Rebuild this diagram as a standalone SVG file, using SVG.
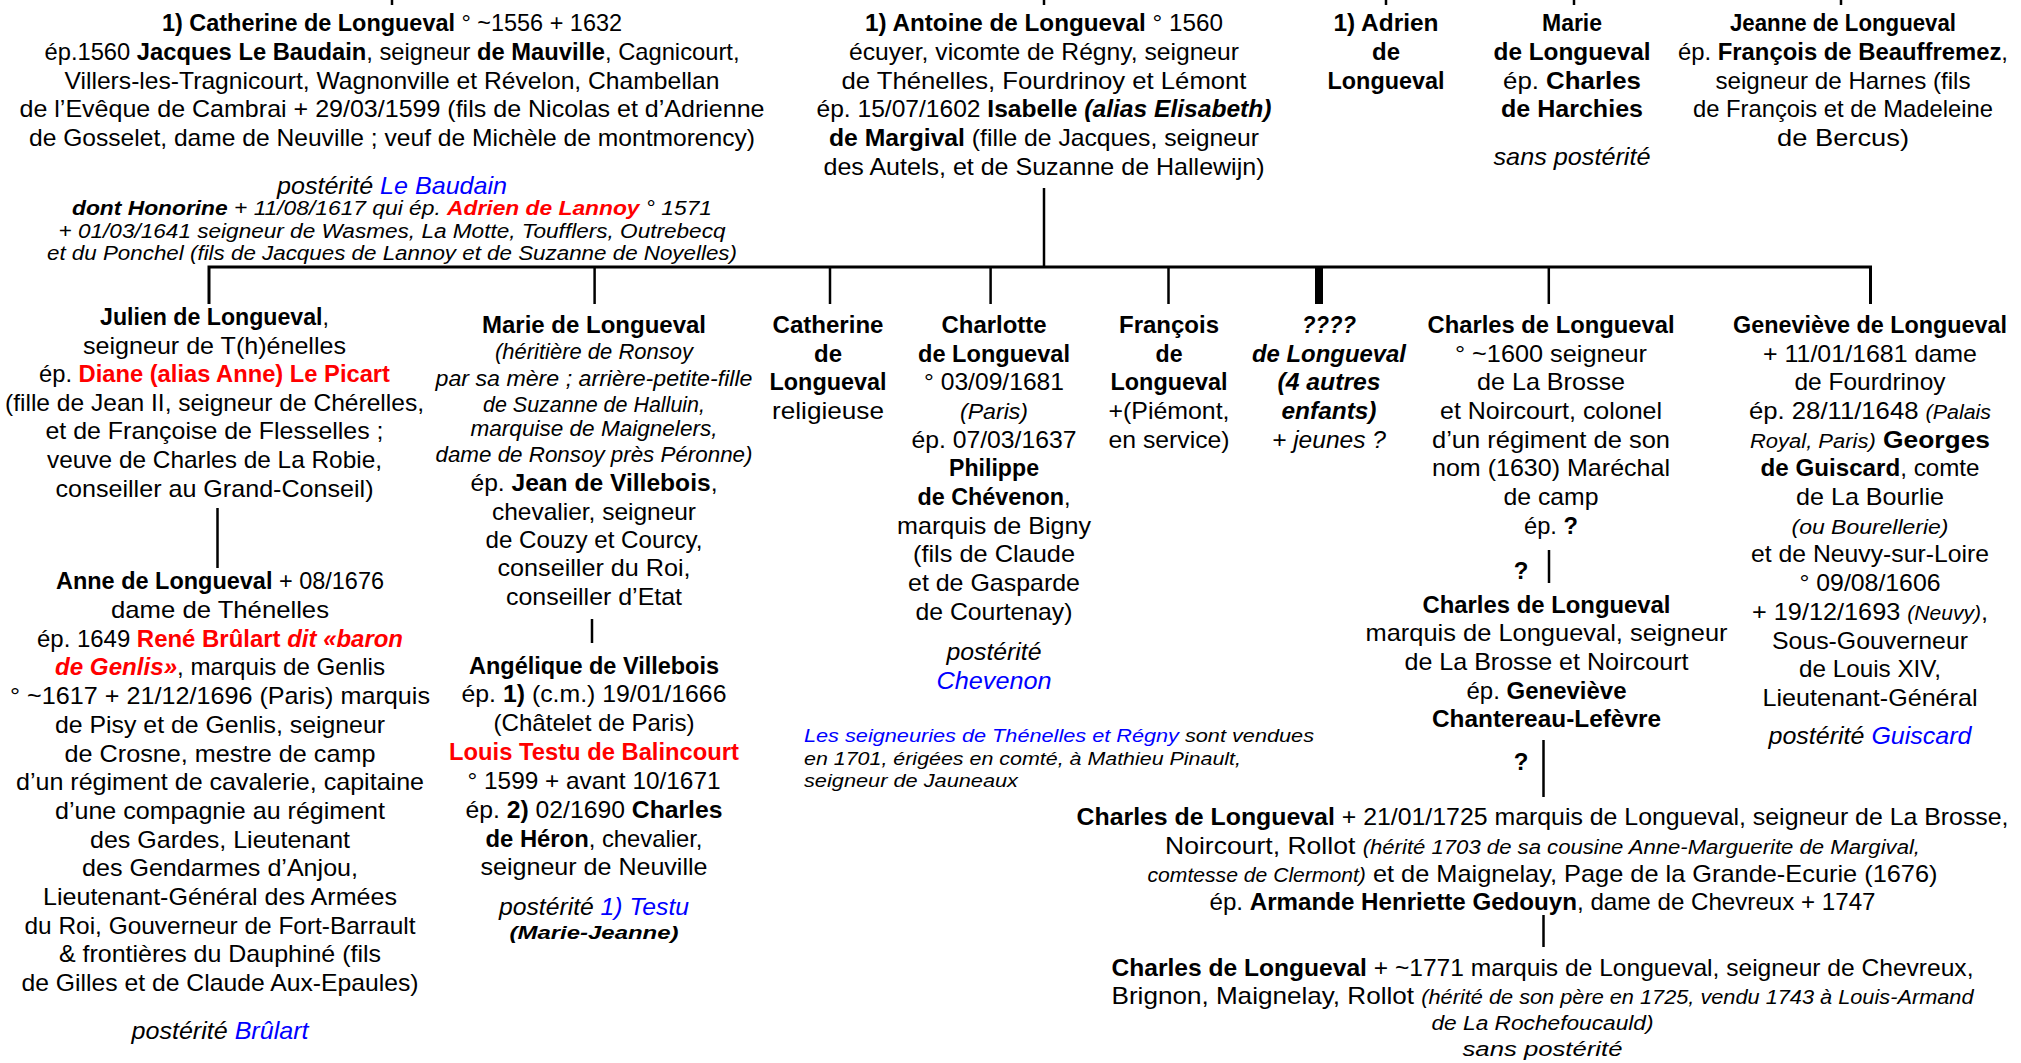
<svg xmlns="http://www.w3.org/2000/svg" width="2021" height="1063" viewBox="0 0 2021 1063">
<style>
text{font-family:"Liberation Sans",Arial,sans-serif;font-size:24px;fill:#000;text-anchor:middle}
.b{font-weight:bold}
.i{font-style:italic}
.r{fill:#ff0000}
.u{fill:#0000ff}
.s20{font-size:20px}
.s22{font-size:22px}
.s19{font-size:19px}
.l{text-anchor:start}
.c line,.c path{stroke:#000;stroke-width:2.5;fill:none}
</style>
<rect width="2021" height="1063" fill="#fff"/>
<g class="c" id="connectors">
<line x1="392" y1="0" x2="392" y2="5"/>
<line x1="1044" y1="0" x2="1044" y2="5"/>
<line x1="1386" y1="0" x2="1386" y2="5"/>
<line x1="1574" y1="0" x2="1574" y2="5"/>
<line x1="1841" y1="0" x2="1841" y2="5"/>
<line x1="1044" y1="188" x2="1044" y2="267"/>
<path d="M209,304 V267 H1870.5 V304" style="stroke-width:3"/>
<line x1="594.6" y1="267" x2="594.6" y2="304"/>
<line x1="830" y1="267" x2="830" y2="304"/>
<line x1="990.6" y1="267" x2="990.6" y2="304"/>
<line x1="1168.5" y1="267" x2="1168.5" y2="304"/>
<line x1="1319" y1="267" x2="1319" y2="304" style="stroke-width:8"/>
<line x1="1548.8" y1="267" x2="1548.8" y2="304"/>
<line x1="217.5" y1="508" x2="217.5" y2="568"/>
<line x1="592" y1="619" x2="592" y2="643"/>
<line x1="1549" y1="550" x2="1549" y2="583"/>
<line x1="1543.5" y1="740" x2="1543.5" y2="797"/>
<line x1="1543.5" y1="915" x2="1543.5" y2="947"/>
</g>
<g id="catherine-top">
<text x="392" y="31" textLength="460" lengthAdjust="spacingAndGlyphs"><tspan class="b">1) Catherine de Longueval</tspan> ° ~1556 + 1632</text>
<text x="392" y="59.75" textLength="695" lengthAdjust="spacingAndGlyphs">ép.1560 <tspan class="b">Jacques Le Baudain</tspan>, seigneur <tspan class="b">de Mauville</tspan>, Cagnicourt,</text>
<text x="392" y="88.5" textLength="655" lengthAdjust="spacingAndGlyphs">Villers-les-Tragnicourt, Wagnonville et Révelon, Chambellan</text>
<text x="392" y="117.25" textLength="745" lengthAdjust="spacingAndGlyphs">de l’Evêque de Cambrai + 29/03/1599 (fils de Nicolas et d’Adrienne</text>
<text x="392" y="146" textLength="726" lengthAdjust="spacingAndGlyphs">de Gosselet, dame de Neuville ; veuf de Michèle de montmorency)</text>
<text x="392" y="193.6" textLength="230" lengthAdjust="spacingAndGlyphs" class="i">postérité <tspan class="u">Le Baudain</tspan></text>
<text x="392" y="215" textLength="640" lengthAdjust="spacingAndGlyphs" class="i s20"><tspan class="b">dont Honorine</tspan> + 11/08/1617 qui ép. <tspan class="b r">Adrien de Lannoy</tspan> ° 1571</text>
<text x="392" y="238" textLength="667" lengthAdjust="spacingAndGlyphs" class="i s20">+ 01/03/1641 seigneur de Wasmes, La Motte, Toufflers, Outrebecq</text>
<text x="392" y="260" textLength="690" lengthAdjust="spacingAndGlyphs" class="i s20">et du Ponchel (fils de Jacques de Lannoy et de Suzanne de Noyelles)</text>
</g>
<g id="antoine">
<text x="1044" y="31" textLength="358" lengthAdjust="spacingAndGlyphs"><tspan class="b">1) Antoine de Longueval</tspan> ° 1560</text>
<text x="1044" y="59.75" textLength="390" lengthAdjust="spacingAndGlyphs">écuyer, vicomte de Régny, seigneur</text>
<text x="1044" y="88.5" textLength="405" lengthAdjust="spacingAndGlyphs">de Thénelles, Fourdrinoy et Lémont</text>
<text x="1044" y="117.25" textLength="455" lengthAdjust="spacingAndGlyphs">ép. 15/07/1602 <tspan class="b">Isabelle </tspan><tspan class="b i">(alias Elisabeth)</tspan></text>
<text x="1044" y="146" textLength="430" lengthAdjust="spacingAndGlyphs"><tspan class="b">de Margival</tspan> (fille de Jacques, seigneur</text>
<text x="1044" y="174.75" textLength="441" lengthAdjust="spacingAndGlyphs">des Autels, et de Suzanne de Hallewijn)</text>
</g>
<g id="adrien">
<text x="1386" y="31" class="b" textLength="105" lengthAdjust="spacingAndGlyphs">1) Adrien</text>
<text x="1386" y="59.75" class="b" textLength="28" lengthAdjust="spacingAndGlyphs">de</text>
<text x="1386" y="88.5" class="b" textLength="117" lengthAdjust="spacingAndGlyphs">Longueval</text>
</g>
<g id="marie-top">
<text x="1572" y="31" class="b" textLength="60" lengthAdjust="spacingAndGlyphs">Marie</text>
<text x="1572" y="59.75" class="b" textLength="157" lengthAdjust="spacingAndGlyphs">de Longueval</text>
<text x="1572" y="88.5" textLength="138" lengthAdjust="spacingAndGlyphs">ép. <tspan class="b">Charles</tspan></text>
<text x="1572" y="117.25" class="b" textLength="142" lengthAdjust="spacingAndGlyphs">de Harchies</text>
<text x="1572" y="165" class="i" textLength="157" lengthAdjust="spacingAndGlyphs">sans postérité</text>
</g>
<g id="jeanne">
<text x="1843" y="31" class="b" textLength="226" lengthAdjust="spacingAndGlyphs">Jeanne de Longueval</text>
<text x="1843" y="59.75" textLength="330" lengthAdjust="spacingAndGlyphs">ép. <tspan class="b">François de Beauffremez</tspan>,</text>
<text x="1843" y="88.5" textLength="255" lengthAdjust="spacingAndGlyphs">seigneur de Harnes (fils</text>
<text x="1843" y="117.25" textLength="300" lengthAdjust="spacingAndGlyphs">de François et de Madeleine</text>
<text x="1843" y="146" textLength="132" lengthAdjust="spacingAndGlyphs">de Bercus)</text>
</g>
<g id="julien">
<text x="214.5" y="325" textLength="229" lengthAdjust="spacingAndGlyphs"><tspan class="b">Julien de Longueval</tspan>,</text>
<text x="214.5" y="353.6" textLength="263" lengthAdjust="spacingAndGlyphs">seigneur de T(h)énelles</text>
<text x="214.5" y="382.2" textLength="351" lengthAdjust="spacingAndGlyphs">ép. <tspan class="b r">Diane (alias Anne) Le Picart</tspan></text>
<text x="214.5" y="410.8" textLength="419" lengthAdjust="spacingAndGlyphs">(fille de Jean II, seigneur de Chérelles,</text>
<text x="214.5" y="439.4" textLength="338" lengthAdjust="spacingAndGlyphs">et de Françoise de Flesselles ;</text>
<text x="214.5" y="468" textLength="335" lengthAdjust="spacingAndGlyphs">veuve de Charles de La Robie,</text>
<text x="214.5" y="496.6" textLength="318" lengthAdjust="spacingAndGlyphs">conseiller au Grand-Conseil)</text>
</g>
<g id="anne">
<text x="220" y="589.3" textLength="328" lengthAdjust="spacingAndGlyphs"><tspan class="b">Anne de Longueval</tspan> + 08/1676</text>
<text x="220" y="618" textLength="218" lengthAdjust="spacingAndGlyphs">dame de Thénelles</text>
<text x="220" y="646.7" textLength="366" lengthAdjust="spacingAndGlyphs">ép. 1649 <tspan class="b r">René Brûlart </tspan><tspan class="b i r">dit «baron</tspan></text>
<text x="220" y="675.4" textLength="330" lengthAdjust="spacingAndGlyphs"><tspan class="b i r">de Genlis»</tspan>, marquis de Genlis</text>
<text x="220" y="704.1" textLength="420" lengthAdjust="spacingAndGlyphs">° ~1617 + 21/12/1696 (Paris) marquis</text>
<text x="220" y="732.8" textLength="330" lengthAdjust="spacingAndGlyphs">de Pisy et de Genlis, seigneur</text>
<text x="220" y="761.5" textLength="311" lengthAdjust="spacingAndGlyphs">de Crosne, mestre de camp</text>
<text x="220" y="790.2" textLength="408" lengthAdjust="spacingAndGlyphs">d’un régiment de cavalerie, capitaine</text>
<text x="220" y="818.9" textLength="330" lengthAdjust="spacingAndGlyphs">d’une compagnie au régiment</text>
<text x="220" y="847.6" textLength="260" lengthAdjust="spacingAndGlyphs">des Gardes, Lieutenant</text>
<text x="220" y="876.3" textLength="276" lengthAdjust="spacingAndGlyphs">des Gendarmes d’Anjou,</text>
<text x="220" y="905" textLength="354" lengthAdjust="spacingAndGlyphs">Lieutenant-Général des Armées</text>
<text x="220" y="933.7" textLength="391" lengthAdjust="spacingAndGlyphs">du Roi, Gouverneur de Fort-Barrault</text>
<text x="220" y="962.4" textLength="322" lengthAdjust="spacingAndGlyphs">&amp; frontières du Dauphiné (fils</text>
<text x="220" y="991.1" textLength="397" lengthAdjust="spacingAndGlyphs">de Gilles et de Claude Aux-Epaules)</text>
<text x="220" y="1039" class="i" textLength="177" lengthAdjust="spacingAndGlyphs">postérité <tspan class="u">Brûlart</tspan></text>
</g>
<g id="marie-child">
<text x="594" y="333" class="b" textLength="224" lengthAdjust="spacingAndGlyphs">Marie de Longueval</text>
<text x="594" y="359" class="i s22" textLength="198" lengthAdjust="spacingAndGlyphs">(héritière de Ronsoy</text>
<text x="594" y="386" class="i s22" textLength="317" lengthAdjust="spacingAndGlyphs">par sa mère ; arrière-petite-fille</text>
<text x="594" y="411.7" class="i s22" textLength="222" lengthAdjust="spacingAndGlyphs">de Suzanne de Halluin,</text>
<text x="594" y="436.2" class="i s22" textLength="247" lengthAdjust="spacingAndGlyphs">marquise de Maignelers,</text>
<text x="594" y="462" class="i s22" textLength="317" lengthAdjust="spacingAndGlyphs">dame de Ronsoy près Péronne)</text>
<text x="594" y="491.3" textLength="247" lengthAdjust="spacingAndGlyphs">ép.  <tspan class="b">Jean de Villebois</tspan>,</text>
<text x="594" y="519.7" textLength="204" lengthAdjust="spacingAndGlyphs">chevalier, seigneur</text>
<text x="594" y="548" textLength="217" lengthAdjust="spacingAndGlyphs">de Couzy et Courcy,</text>
<text x="594" y="576.4" textLength="193" lengthAdjust="spacingAndGlyphs">conseiller du Roi,</text>
<text x="594" y="604.8" textLength="176" lengthAdjust="spacingAndGlyphs">conseiller d’Etat</text>
</g>
<g id="angelique">
<text x="594" y="674" class="b" textLength="250" lengthAdjust="spacingAndGlyphs">Angélique de Villebois</text>
<text x="594" y="702" textLength="265" lengthAdjust="spacingAndGlyphs">ép. <tspan class="b">1)</tspan> (c.m.) 19/01/1666</text>
<text x="594" y="730.5" textLength="201" lengthAdjust="spacingAndGlyphs">(Châtelet de Paris)</text>
<text x="594" y="760" class="b r" textLength="290" lengthAdjust="spacingAndGlyphs">Louis Testu de Balincourt</text>
<text x="594" y="788.5" textLength="253" lengthAdjust="spacingAndGlyphs">° 1599 + avant 10/1671</text>
<text x="594" y="818" textLength="257" lengthAdjust="spacingAndGlyphs">ép. <tspan class="b">2)</tspan> 02/1690 <tspan class="b">Charles</tspan></text>
<text x="594" y="846.5" textLength="217" lengthAdjust="spacingAndGlyphs"><tspan class="b">de Héron</tspan>, chevalier,</text>
<text x="594" y="875" textLength="227" lengthAdjust="spacingAndGlyphs">seigneur de Neuville</text>
<text x="594" y="914.5" class="i" textLength="190" lengthAdjust="spacingAndGlyphs">postérité <tspan class="u">1) Testu</tspan></text>
<text x="594" y="939" class="b i s19" textLength="169" lengthAdjust="spacingAndGlyphs">(Marie-Jeanne)</text>
</g>
<g id="catherine-child">
<text x="828" y="332.8" class="b" textLength="111" lengthAdjust="spacingAndGlyphs">Catherine</text>
<text x="828" y="361.5" class="b" textLength="28" lengthAdjust="spacingAndGlyphs">de</text>
<text x="828" y="390.2" class="b" textLength="117" lengthAdjust="spacingAndGlyphs">Longueval</text>
<text x="828" y="418.9" textLength="112" lengthAdjust="spacingAndGlyphs">religieuse</text>
</g>
<g id="charlotte">
<text x="994" y="332.8" class="b" textLength="105" lengthAdjust="spacingAndGlyphs">Charlotte</text>
<text x="994" y="361.5" class="b" textLength="152" lengthAdjust="spacingAndGlyphs">de Longueval</text>
<text x="994" y="390.2" textLength="140" lengthAdjust="spacingAndGlyphs">° 03/09/1681</text>
<text x="994" y="418.9" class="i s22" textLength="68" lengthAdjust="spacingAndGlyphs">(Paris)</text>
<text x="994" y="447.6" textLength="165" lengthAdjust="spacingAndGlyphs">ép. 07/03/1637</text>
<text x="994" y="476.3" class="b" textLength="90" lengthAdjust="spacingAndGlyphs">Philippe</text>
<text x="994" y="505" textLength="153" lengthAdjust="spacingAndGlyphs"><tspan class="b">de Chévenon</tspan>,</text>
<text x="994" y="533.7" textLength="194" lengthAdjust="spacingAndGlyphs">marquis de Bigny</text>
<text x="994" y="562.4" textLength="162" lengthAdjust="spacingAndGlyphs">(fils de Claude</text>
<text x="994" y="591.1" textLength="172" lengthAdjust="spacingAndGlyphs">et de Gasparde</text>
<text x="994" y="619.8" textLength="157" lengthAdjust="spacingAndGlyphs">de Courtenay)</text>
<text x="994" y="659.6" class="i" textLength="95" lengthAdjust="spacingAndGlyphs">postérité</text>
<text x="994" y="688.5" class="i u" textLength="115" lengthAdjust="spacingAndGlyphs">Chevenon</text>
</g>
<g id="francois">
<text x="1169" y="332.8" class="b" textLength="100" lengthAdjust="spacingAndGlyphs">François</text>
<text x="1169" y="361.5" class="b" textLength="27" lengthAdjust="spacingAndGlyphs">de</text>
<text x="1169" y="390.2" class="b" textLength="117" lengthAdjust="spacingAndGlyphs">Longueval</text>
<text x="1169" y="418.9" textLength="121" lengthAdjust="spacingAndGlyphs">+(Piémont,</text>
<text x="1169" y="447.6" textLength="121" lengthAdjust="spacingAndGlyphs">en service)</text>
</g>
<g id="autres">
<text x="1329" y="332.8" class="b i" textLength="54" lengthAdjust="spacingAndGlyphs">????</text>
<text x="1329" y="361.5" class="b i" textLength="154" lengthAdjust="spacingAndGlyphs">de Longueval</text>
<text x="1329" y="390.2" class="b i" textLength="103" lengthAdjust="spacingAndGlyphs">(4 autres</text>
<text x="1329" y="418.9" class="b i" textLength="95" lengthAdjust="spacingAndGlyphs">enfants)</text>
<text x="1329" y="447.6" class="i" textLength="114" lengthAdjust="spacingAndGlyphs">+ jeunes ?</text>
</g>
<g id="note">
<text x="804" y="742" class="i s19 l" textLength="510" lengthAdjust="spacingAndGlyphs"><tspan class="u">Les seigneuries de Thénelles et Régny</tspan> sont vendues</text>
<text x="804" y="765" class="i s19 l" textLength="437" lengthAdjust="spacingAndGlyphs">en 1701, érigées en comté, à Mathieu Pinault,</text>
<text x="804" y="787" class="i s19 l" textLength="214" lengthAdjust="spacingAndGlyphs">seigneur de Jauneaux</text>
</g>
<g id="charles-1600">
<text x="1551" y="332.8" class="b" textLength="247" lengthAdjust="spacingAndGlyphs">Charles de Longueval</text>
<text x="1551" y="361.5" textLength="192" lengthAdjust="spacingAndGlyphs">° ~1600 seigneur</text>
<text x="1551" y="390.2" textLength="148" lengthAdjust="spacingAndGlyphs">de La Brosse</text>
<text x="1551" y="418.9" textLength="222" lengthAdjust="spacingAndGlyphs">et Noircourt, colonel</text>
<text x="1551" y="447.6" textLength="238" lengthAdjust="spacingAndGlyphs">d’un régiment de son</text>
<text x="1551" y="476.3" textLength="238" lengthAdjust="spacingAndGlyphs">nom (1630) Maréchal</text>
<text x="1551" y="505" textLength="95" lengthAdjust="spacingAndGlyphs">de camp</text>
<text x="1551" y="533.7" textLength="54" lengthAdjust="spacingAndGlyphs">ép. <tspan class="b">?</tspan></text>
<text x="1521" y="579" class="b">?</text>
</g>
<g id="charles-marquis">
<text x="1546.5" y="612.5" class="b" textLength="248" lengthAdjust="spacingAndGlyphs">Charles de Longueval</text>
<text x="1546.5" y="641.2" textLength="362" lengthAdjust="spacingAndGlyphs">marquis de Longueval, seigneur</text>
<text x="1546.5" y="669.9" textLength="284" lengthAdjust="spacingAndGlyphs">de La Brosse et Noircourt</text>
<text x="1546.5" y="698.6" textLength="160" lengthAdjust="spacingAndGlyphs">ép. <tspan class="b">Geneviève</tspan></text>
<text x="1546.5" y="727.3" class="b" textLength="229" lengthAdjust="spacingAndGlyphs">Chantereau-Lefèvre</text>
<text x="1521" y="770" class="b">?</text>
</g>
<g id="genevieve">
<text x="1870" y="332.8" class="b" textLength="274" lengthAdjust="spacingAndGlyphs">Geneviève de Longueval</text>
<text x="1870" y="361.5" textLength="214" lengthAdjust="spacingAndGlyphs">+ 11/01/1681 dame</text>
<text x="1870" y="390.2" textLength="151" lengthAdjust="spacingAndGlyphs">de Fourdrinoy</text>
<text x="1870" y="418.9" textLength="242" lengthAdjust="spacingAndGlyphs">ép. 28/11/1648 <tspan class="i s20">(Palais</tspan></text>
<text x="1870" y="447.6" textLength="240" lengthAdjust="spacingAndGlyphs"><tspan class="i s20">Royal, Paris)</tspan>  <tspan class="b">Georges</tspan></text>
<text x="1870" y="476.3" textLength="219" lengthAdjust="spacingAndGlyphs"><tspan class="b">de Guiscard</tspan>, comte</text>
<text x="1870" y="505" textLength="148" lengthAdjust="spacingAndGlyphs">de La Bourlie</text>
<text x="1870" y="533.7" class="i s20" textLength="157" lengthAdjust="spacingAndGlyphs">(ou Bourellerie)</text>
<text x="1870" y="562.4" textLength="238" lengthAdjust="spacingAndGlyphs">et de Neuvy-sur-Loire</text>
<text x="1870" y="591.1" textLength="141" lengthAdjust="spacingAndGlyphs">° 09/08/1606</text>
<text x="1870" y="619.8" textLength="236" lengthAdjust="spacingAndGlyphs">+ 19/12/1693 <tspan class="i s20">(Neuvy)</tspan>,</text>
<text x="1870" y="648.5" textLength="196" lengthAdjust="spacingAndGlyphs">Sous-Gouverneur</text>
<text x="1870" y="677.2" textLength="142" lengthAdjust="spacingAndGlyphs">de Louis XIV,</text>
<text x="1870" y="705.9" textLength="215" lengthAdjust="spacingAndGlyphs">Lieutenant-Général</text>
<text x="1870" y="744" class="i" textLength="203" lengthAdjust="spacingAndGlyphs">postérité <tspan class="u">Guiscard</tspan></text>
</g>
<g id="charles-1725">
<text x="1542.5" y="825" textLength="932" lengthAdjust="spacingAndGlyphs"><tspan class="b">Charles de Longueval</tspan> + 21/01/1725 marquis de Longueval, seigneur de La Brosse,</text>
<text x="1542.5" y="853.5" textLength="755" lengthAdjust="spacingAndGlyphs">Noircourt, Rollot <tspan class="i s20">(hérité 1703 de sa cousine Anne-Marguerite de Margival,</tspan></text>
<text x="1542.5" y="882" textLength="790" lengthAdjust="spacingAndGlyphs"><tspan class="i s20">comtesse de Clermont)</tspan> et de Maignelay, Page de la Grande-Ecurie (1676)</text>
<text x="1542.5" y="910" textLength="666" lengthAdjust="spacingAndGlyphs">ép. <tspan class="b">Armande Henriette Gedouyn</tspan>, dame de Chevreux + 1747</text>
</g>
<g id="charles-1771">
<text x="1542.5" y="976" textLength="862" lengthAdjust="spacingAndGlyphs"><tspan class="b">Charles de Longueval</tspan> + ~1771 marquis de Longueval, seigneur de Chevreux,</text>
<text x="1542.5" y="1004" textLength="862" lengthAdjust="spacingAndGlyphs">Brignon, Maignelay, Rollot <tspan class="i s20">(hérité de son père en 1725, vendu 1743 à Louis-Armand</tspan></text>
<text x="1542.5" y="1030" class="i s20" textLength="222" lengthAdjust="spacingAndGlyphs">de La Rochefoucauld)</text>
<text x="1542.5" y="1056" class="i s20" textLength="160" lengthAdjust="spacingAndGlyphs">sans postérité</text>
</g>
</svg>
